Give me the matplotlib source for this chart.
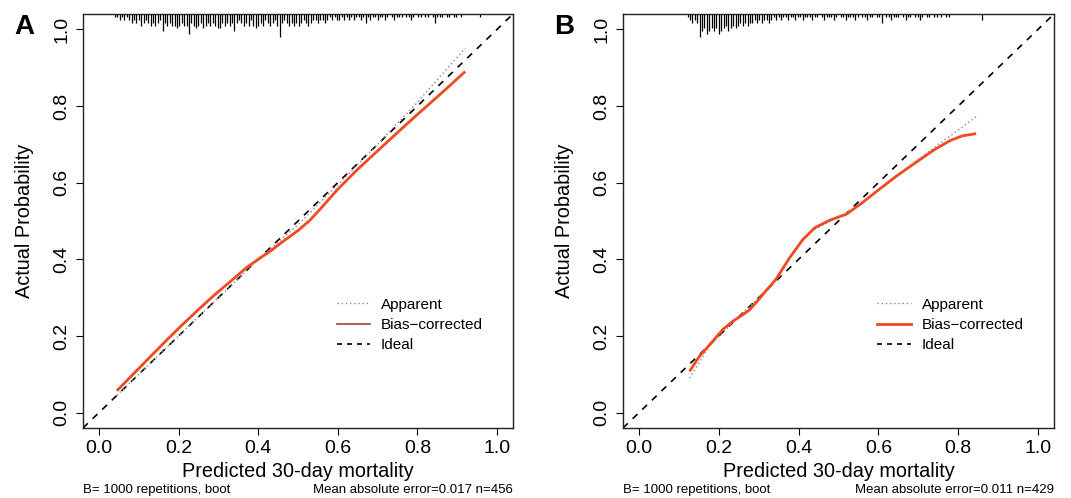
import numpy as np
import matplotlib
matplotlib.use("Agg")
import matplotlib.pyplot as plt
from matplotlib.lines import Line2D

plt.rcParams['font.family'] = ['Liberation Sans', 'DejaVu Sans']

### Données
# panel A
a_bias_x = [.045, .08, .13, .17, .21, .25, .29, .33, .37, .40, .43, .46, .50, .53, .56, .60, .65, .70, .75, .80, .85, .88, .92]
a_bias_y = [.057, .094, .147, .189, .230, .269, .307, .342, .378, .400, .421, .445, .475, .502, .536, .583, .635, .683, .731, .778, .824, .852, .890]
a_app_x = [.045, .2, .4, .5, .6, .7, .8, .92]
a_app_y = [.045, .20, .40, .49, .595, .70, .81, .951]
a_rug_start = 0.04   # premier bin
a_rug_counts = [1, 1, 2, 1, 2, 1, 2, 3, 2, 3, 2, 4, 3, 2, 3, 4, 3, 4, 3, 2,
                6, 3, 4, 3, 4, 4, 5, 4, 3, 4, 4, 7, 3, 4, 5, 4, 3, 5, 4, 3,
                4, 3, 4, 5, 5, 3, 4, 3, 4, 3, 6, 3, 2, 3, 4, 3, 4, 2, 4, 5,
                4, 3, 4, 2, 3, 4, 3, 2, 4, 8, 3, 2, 3, 4, 3, 4, 3, 4, 3, 2,
                3, 4, 3, 2, 2, 3, 2, 2, 3, 2, 1, 2, 1, 2, 2, 1, 2, 1, 2, 1,
                2, 1, 1, 2, 1, 3, 1, 2, 1, 1, 2, 1, 1, 2, 1, 0, 1, 2, 1, 1,
                1, 0, 1, 1, 2, 1, 0, 1, 1, 0, 1, 1, 0, 1, 3, 1, 1, 1, 0, 1,
                1, 0, 1, 1, 0, 1, 0, 0, 0, 0, 0, 0, 0, 1]
# panel B
b_bias_x = [.127, .15, .177, .211, .236, .261, .277, .30, .311, .344, .378, .411, .440, .478, .52, .56, .60, .645, .69, .74, .78, .81, .845]
b_bias_y = [.108, .145, .177, .218, .239, .256, .268, .295, .309, .349, .405, .452, .482, .502, .518, .548, .581, .617, .650, .686, .710, .722, .728]
b_app_x = [.127, .177, .25, .30, .35, .40, .44, .48, .52, .60, .69, .74, .78, .81, .845]
b_app_y = [.090, .175, .25, .30, .355, .44, .478, .50, .518, .58, .652, .692, .722, .745, .772]
b_rug_start = 0.122
b_rug_counts = [1, 2, 3, 2, 3, 8, 6, 5, 7, 6, 5, 6, 5, 7, 6, 5, 4, 6, 5, 4,
                5, 4, 3, 4, 3, 4, 3, 3, 2, 3, 2, 3, 2, 2, 3, 2, 1, 2, 1, 2,
                1, 1, 2, 1, 1, 2, 1, 1, 2, 1, 1, 1, 2, 1, 1, 0, 1, 2, 1, 1,
                1, 2, 1, 0, 1, 1, 2, 1, 1, 1, 2, 1, 0, 1, 1, 2, 1, 1, 0, 1,
                1, 3, 0, 1, 1, 2, 1, 1, 1, 0, 1, 2, 1, 1, 0, 1, 1, 2, 1, 0,
                1, 1, 0, 1, 1, 0, 1, 0, 1, 1, 0, 0, 0, 0, 0, 0, 0, 0, 0, 0,
                0, 0, 0, 2]
rug_width = 0.006

ticks = [0.0, 0.2, 0.4, 0.6, 0.8, 1.0]
tick_labels = ["0.0", "0.2", "0.4", "0.6", "0.8", "1.0"]

panels = [
    dict(letter="A", rect=[83/1071, 70/498, 430/1071, 414/498],
         bx=a_bias_x, by=a_bias_y, ax_=a_app_x, ay=a_app_y,
         rs=a_rug_start, rc=a_rug_counts, leg_col="#b03a2e", leg_lw=1.2,
         mae="Mean absolute error=0.017 n=456"),
    dict(letter="B", rect=[623/1071, 70/498, 431/1071, 414/498],
         bx=b_bias_x, by=b_bias_y, ax_=b_app_x, ay=b_app_y,
         rs=b_rug_start, rc=b_rug_counts, leg_col="#f04a23", leg_lw=2.0,
         mae="Mean absolute error=0.011 n=429"),
]

red = "#f04a23"
fig = plt.figure(figsize=(10.71, 4.98), dpi=100)

for p in panels:
    ax = fig.add_axes(p["rect"])
    ax.set_xlim(-0.04, 1.04)
    ax.set_ylim(-0.04, 1.04)
    # ideal
    ax.plot([-0.04, 1.04], [-0.04, 1.04], color="black", lw=1.2, ls=(0, (4, 4)))
    # apparent
    ax.plot(p["ax_"], p["ay"], color="#888888", lw=1.0, ls=(0, (1, 2)))
    # bias-corrected
    ax.plot(p["bx"], p["by"], color=red, lw=2.0, solid_capstyle="butt")
    # histogramme en haut
    xs = p["rs"] + rug_width * np.arange(len(p["rc"]))
    c = np.array(p["rc"])
    keep = c > 0
    trans = ax.get_xaxis_transform()
    ax.vlines(xs[keep], 1 - c[keep] * 0.007, 1, color="black", lw=0.9, transform=trans)

    ax.set_xticks(ticks)
    ax.set_xticklabels(tick_labels)
    ax.set_yticks(ticks)
    ax.set_yticklabels(tick_labels, rotation=90, va="center")
    ax.tick_params(direction="out", length=5, width=0.8, labelsize=14, colors="black")
    ax.tick_params(axis="y", pad=4)
    for s in ax.spines.values():
        s.set_linewidth(1.0)
        s.set_color("#222222")

    handles = [Line2D([], [], color="#888888", lw=1.0, ls=(0, (1, 2))),
               Line2D([], [], color=p["leg_col"], lw=p["leg_lw"]),
               Line2D([], [], color="black", lw=1.2, ls=(0, (3, 3)))]
    ax.legend(handles, ["Apparent", "Bias\u2212corrected", "Ideal"],
              loc="upper left", bbox_to_anchor=(0.59, 0.315), frameon=False,
              fontsize=11, handlelength=2.2, handletextpad=0.7,
              labelspacing=0.42, borderaxespad=0, borderpad=0)

    ax.set_xlabel("Predicted 30-day mortality", fontsize=14.3, labelpad=4)
    ax.set_ylabel("Actual Probability", fontsize=14.3, labelpad=14)
    ax.text(0.0, -0.15, "B= 1000 repetitions, boot", transform=ax.transAxes,
            fontsize=9.5, ha="left", va="center")
    ax.text(1.0, -0.15, p["mae"], transform=ax.transAxes,
            fontsize=9.5, ha="right", va="center")
    x0 = p["rect"][0]
    fig.text(x0 - 0.055, 0.945, p["letter"], fontsize=20, fontweight="bold",
             ha="center", va="center")

fig.savefig("out.png", dpi=100)
